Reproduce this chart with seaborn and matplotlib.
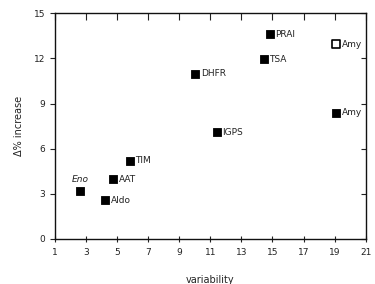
import matplotlib
matplotlib.use("Agg")
import matplotlib.pyplot as plt
import seaborn as sns
import pandas as pd

names = ["PRAI", "Amy", "TSA", "DHFR", "Amy", "IGPS", "Eno", "AAT", "Aldo", "TIM"]
variability = [14.83, 19.09, 14.44, 10.03, 19.09, 11.43, 2.61, 4.74, 4.23, 5.82]
increase = [13.62, 12.96, 11.96, 11.0, 8.38, 7.1, 3.19, 3.98, 2.59, 5.2]
filled = [True, False, True, True, True, True, True, True, True, True]
x_ticks = [1, 3, 5, 7, 9, 11, 13, 15, 17, 19, 21]
y_ticks = [0, 3, 6, 9, 12, 15]

df = pd.DataFrame({"name": names, "var": variability, "inc": increase, "filled": filled})

sns.set_style("ticks")
plt.rcParams["font.family"] = ["DejaVu Sans"]

fig = plt.figure(figsize=(3.75, 2.84), dpi=100)
ax = fig.add_axes([0.1467, 0.1585, 0.8283, 0.7945])

sns.scatterplot(data=df[df["filled"]], x="var", y="inc", marker="s", s=36,
                color="black", edgecolor="black", linewidth=0.6, ax=ax, zorder=3)
sns.scatterplot(data=df[~df["filled"]], x="var", y="inc", marker="s", s=36,
                facecolor="white", edgecolor="black", linewidth=1.2, ax=ax, zorder=3)

for _, r in df.iterrows():
    if r["name"] == "Eno":
        ax.annotate(r["name"], (r["var"], r["inc"]), xytext=(0, 5), textcoords="offset points",
                    ha="center", va="bottom", fontsize=6.5, style="italic", color="#222222")
    else:
        ax.annotate(r["name"], (r["var"], r["inc"]), xytext=(4, 0), textcoords="offset points",
                    ha="left", va="center", fontsize=6.5, color="#222222")

ax.set_xlim(1, 21)
ax.set_ylim(0, 15)
ax.set_xticks(x_ticks)
ax.set_yticks(y_ticks)
ax.tick_params(axis="both", labelsize=6.5, colors="#222222", width=0.8, length=3.5)
ax.tick_params(axis="x", direction="inout", top=True, length=5, pad=4)
ax.tick_params(axis="y", direction="out", right=True)
for t in ax.xaxis.get_major_ticks():
    t.tick2line.set_marker(matplotlib.markers.TICKDOWN)
for t in ax.yaxis.get_major_ticks():
    t.tick2line.set_marker(matplotlib.markers.TICKLEFT)
for sp in ax.spines.values():
    sp.set_visible(True)
    sp.set_linewidth(1.0)
    sp.set_color("#111111")

ax.set_xlabel("variability", fontsize=7, color="#222222", labelpad=13)
ax.set_ylabel("\u0394% increase", fontsize=7, color="#222222", labelpad=7)

fig.savefig("out.png", dpi=100)
